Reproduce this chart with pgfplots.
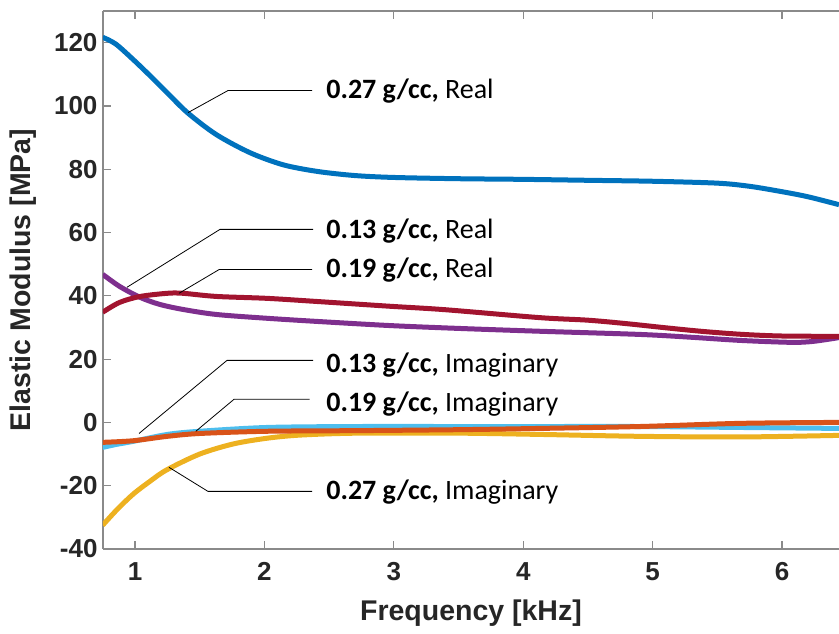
\documentclass[border=0pt]{standalone}
\usepackage{fontspec}
\setmainfont{Liberation Sans}
\newfontfamily\calfont{Carlito}
\usepackage{pgfplots}
\pgfplotsset{compat=1.18}
\usetikzlibrary{calc}
\definecolor{mblue}{HTML}{0072BD}
\definecolor{morange}{HTML}{D95319}
\definecolor{myellow}{HTML}{EDB120}
\definecolor{mpurple}{HTML}{7E2F8E}
\definecolor{mlblue}{HTML}{4DBEEE}
\definecolor{mred}{HTML}{A2142F}
\definecolor{txt}{HTML}{262626}
\definecolor{axgray}{HTML}{8A8A8A}
\newcommand{\ann}[2]{{\calfont\fontsize{28}{32}\selectfont\textbf{#1} #2}}
\begin{document}
\begin{tikzpicture}
\begin{axis}[
  scale only axis, width=736pt, height=538pt,
  xmin=0.7527, xmax=6.44, ymin=-40, ymax=130,
  axis x line*=box, axis y line*=left,
  axis line style={axgray, line width=1.2pt},
  every tick/.style={axgray, line width=1.2pt},
  major tick length=8pt,
  xtick={1,2,3,4,5,6}, ytick={-40,-20,0,20,40,60,80,100,120},
  /pgf/number format/assume math mode=true,
  tick label style={font=\fontsize{26}{30}\selectfont\bfseries, text=txt},
  xticklabel style={yshift=-10pt},
  yticklabel style={xshift=-2pt},
  xlabel={Frequency [kHz]}, ylabel={Elastic Modulus [MPa]},
  label style={font=\fontsize{28.5}{32}\selectfont\bfseries, text=txt},
  xlabel style={at={(axis description cs:0.5,-0.132)}, anchor=base},
  ylabel style={at={(axis description cs:-0.1087,0.5)}, anchor=center},
  every axis plot/.style={line width=5pt, smooth, tension=0.5},
]
% 0.27 g/cc Real
\addplot[mblue] coordinates {(0.75,121.7) (0.85,119.6) (0.985,114.7) (1.12,109.4) (1.25,104.1) (1.41,97.7) (1.63,90.9) (1.89,85.2) (2.145,81.4) (2.41,79.3) (2.7,78.0) (3.0,77.4) (3.5,77.0) (4.0,76.8) (4.5,76.5) (5.0,76.2) (5.5,75.6) (5.75,74.6) (6.0,72.9) (6.2,71.3) (6.44,68.8)};
% 0.13 g/cc Real
\addplot[mpurple] coordinates {(0.75,46.8) (0.88,43) (1.04,39.5) (1.19,37.3) (1.37,35.7) (1.63,34.1) (2.02,32.9) (2.41,31.9) (2.97,30.6) (3.5,29.7) (4.13,28.8) (4.9,27.8) (5.3,26.9) (5.68,25.9) (6.07,25.3) (6.24,25.6) (6.44,26.8)};
% 0.19 g/cc Real
\addplot[mred] coordinates {(0.75,34.8) (0.88,37.9) (1.04,39.8) (1.25,40.8) (1.37,40.8) (1.63,39.8) (2.02,39.2) (2.41,38.2) (2.97,36.7) (3.4,35.6) (4.13,33.1) (4.5,32.3) (4.8,31.2) (5.1,29.9) (5.4,28.7) (5.7,27.8) (6.0,27.3) (6.44,27.2)};
% 0.27 g/cc Imaginary
\addplot[myellow] coordinates {(0.75,-32.5) (0.86,-27.6) (0.985,-22.7) (1.116,-18.6) (1.245,-15.0) (1.5,-10.0) (1.76,-6.8) (2.02,-5.0) (2.28,-4.0) (2.72,-3.4) (3.5,-3.4) (4.13,-3.8) (4.9,-4.4) (5.68,-4.6) (6.44,-4.1)};
% 0.13 g/cc Imaginary
\addplot[mlblue] coordinates {(0.75,-7.9) (0.85,-7.0) (0.985,-6) (1.25,-3.8) (1.5,-2.8) (2.02,-1.6) (2.72,-1.3) (3.5,-1.3) (4.13,-1.3) (4.9,-1.3) (5.68,-1.6) (6.44,-1.9)};
% 0.19 g/cc Imaginary
\addplot[morange] coordinates {(0.75,-6.3) (0.985,-5.8) (1.25,-4.4) (1.5,-3.5) (2.02,-2.8) (2.72,-2.6) (3.5,-2.3) (4.13,-1.9) (4.9,-1.3) (5.68,-0.3) (6.44,0)};
% annotations
\draw[black, line width=0.8pt] (axis cs:1.41,97.9) -- (axis cs:1.72,104.9) -- (axis cs:2.368,104.9);
\node[anchor=base west, inner sep=0pt] at (axis cs:2.477,102.3) {\ann{0.27 g/cc,}{Real}};
\draw[black, line width=0.8pt] (axis cs:0.938,42.7) -- (axis cs:1.657,61) -- (axis cs:2.376,61);
\node[anchor=base west, inner sep=0pt] at (axis cs:2.477,58.1) {\ann{0.13 g/cc,}{Real}};
\draw[black, line width=0.8pt] (axis cs:1.34,40.8) -- (axis cs:1.65,48.3) -- (axis cs:2.368,48.3);
\node[anchor=base west, inner sep=0pt] at (axis cs:2.477,45.8) {\ann{0.19 g/cc,}{Real}};
\draw[black, line width=0.8pt] (axis cs:1.031,-3.5) -- (axis cs:1.711,19.6) -- (axis cs:2.376,19.6);
\node[anchor=base west, inner sep=0pt] at (axis cs:2.477,15.8) {\ann{0.13 g/cc,}{Imaginary}};
\draw[black, line width=0.8pt] (axis cs:1.47,-2.8) -- (axis cs:1.765,7.3) -- (axis cs:2.35,7.3);
\node[anchor=base west, inner sep=0pt] at (axis cs:2.477,3.5) {\ann{0.19 g/cc,}{Imaginary}};
\draw[black, line width=0.8pt] (axis cs:1.263,-14.2) -- (axis cs:1.564,-21.8) -- (axis cs:2.368,-21.8);
\node[anchor=base west, inner sep=0pt] at (axis cs:2.477,-24.3) {\ann{0.27 g/cc,}{Imaginary}};
\end{axis}
\pgfresetboundingbox
\path ($(current axis.south west)+(-103pt,-85pt)$) rectangle ($(current axis.north east)+(0pt,11pt)$);
\end{tikzpicture}
\end{document}
